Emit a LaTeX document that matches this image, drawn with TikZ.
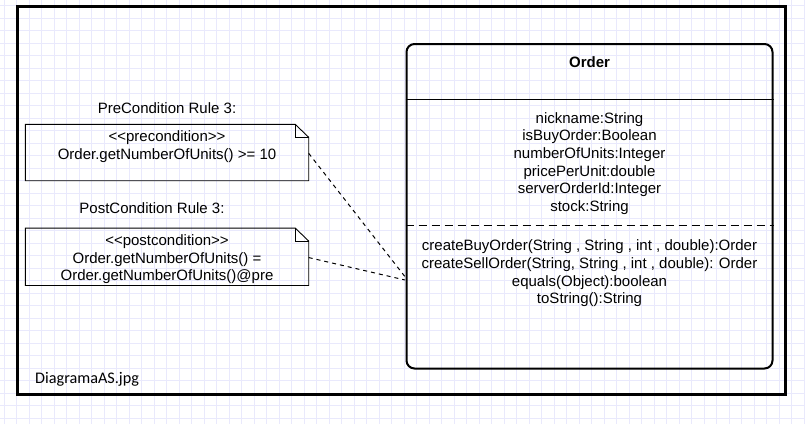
\documentclass[tikz,border=0pt]{standalone}
\usepackage{fontspec}
\setmainfont{Liberation Sans}
\newfontfamily\calib{Carlito}
\begin{document}
\begin{tikzpicture}[x=1pt,y=-1pt,
  gridline/.style={draw={rgb,255:red,233;green,233;blue,252},line width=0.8pt},
  umltext/.style={font=\fontsize{15}{17.6}\selectfont,align=center,inner sep=0pt},
  notebox/.style={minimum width=283pt,minimum height=56pt,inner sep=0pt},
  noteline/.style={draw=black,line width=0.9pt},
  link/.style={draw=black,line width=1pt,dash pattern=on 4pt off 4pt}]
\useasboundingbox (0,0) rectangle (805,424);
\fill[white] (0,0) rectangle (805,424);
\foreach \i in {0,...,64} \draw[gridline] ({4+12.5*\i},0) -- ++(0,424);
\foreach \j in {0,...,33} \draw[gridline] (0,{5.5+12.5*\j}) -- ++(805,0);
% outer frame
\node[draw,line width=3pt,minimum width=768pt,minimum height=388pt,inner sep=0pt] (frame) at (401.5,200) {};
\node[font=\calib\fontsize{16.2}{19}\selectfont,anchor=west,inner sep=0pt] (cap) at (35,379) {DiagramaAS.jpg};
% class box
\node[draw,line width=2pt,rounded corners=8pt,minimum width=366pt,minimum height=324.5pt,inner sep=0pt] (order) at (589.5,206.25) {};
\draw[line width=1pt] (order.west |- 0,99.3) -- (order.east |- 0,99.3);
\draw[line width=1pt,dash pattern=on 8pt off 5pt] (order.west |- 0,225.5) -- (order.east |- 0,225.5);
\node[umltext,font=\bfseries\fontsize{15}{17.6}\selectfont] (title) at (589.5,62.5) {Order};
\node[umltext] (attrs) at (589.5,163.5) {nickname:String\\isBuyOrder:Boolean\\numberOfUnits:Integer\\pricePerUnit:double\\serverOrderId:Integer\\stock:String};
\node[umltext] (ops) at (589.5,273.5) {createBuyOrder(String , String , int , double):Order\\createSellOrder(String, String , int , double): Order\\equals(Object):boolean\\toString():String};
% precondition note
\node[umltext] (prelabel) at (167,108) {PreCondition Rule 3:};
\node[notebox] (pre) at (167,152.5) {};
\draw[noteline] (pre.south west) -- (pre.north west) -- ([xshift=-13.5pt]pre.north east) -- ([yshift=-13pt]pre.north east) -- (pre.south east) -- cycle;
\draw[noteline] ([xshift=-13.5pt]pre.north east) -- ([xshift=-13.5pt,yshift=-13pt]pre.north east) -- ([yshift=-13pt]pre.north east);
\node[umltext] (pretext) at (167,146.5) {<{}<precondition>{}>\\Order.getNumberOfUnits() >= 10};
% postcondition note
\node[umltext] (postlabel) at (152,208) {PostCondition Rule 3:};
\node[notebox,minimum height=57pt] (post) at (167,256.75) {};
\draw[noteline] (post.south west) -- (post.north west) -- ([xshift=-13.5pt]post.north east) -- ([yshift=-13pt]post.north east) -- (post.south east) -- cycle;
\draw[noteline] ([xshift=-13.5pt]post.north east) -- ([xshift=-13.5pt,yshift=-13pt]post.north east) -- ([yshift=-13pt]post.north east);
\node[umltext] (posttext) at (167,259.5) {<{}<postcondition>{}>\\Order.getNumberOfUnits() =\\Order.getNumberOfUnits()@pre};
% connectors
\coordinate (preend) at (405,276.7);
\coordinate (postend) at (405,280);
\draw[link] ([yshift=-0.8pt]pre.east) -- (preend);
\draw[link] ([yshift=-0.8pt]post.east) -- (postend);
\end{tikzpicture}
\end{document}
